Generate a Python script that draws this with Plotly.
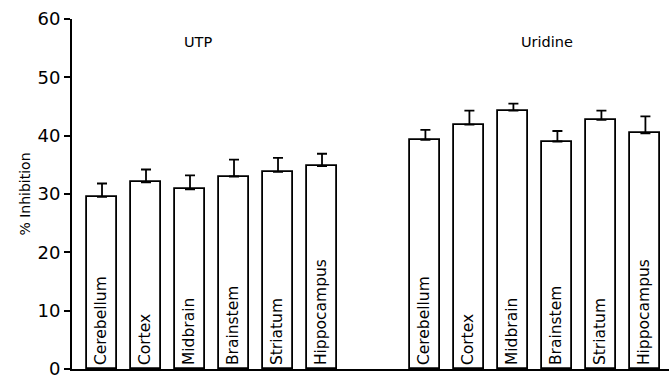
import plotly.graph_objects as go

# Brain regions assayed for each nucleoside / nucleotide
regions = ["Cerebellum", "Cortex", "Midbrain", "Brainstem", "Striatum", "Hippocampus"]

# % inhibition (mean) and upper error (SEM)
utp_mean = [29.5, 32.0, 30.8, 33.0, 33.8, 34.8]
utp_sem = [2.3, 2.2, 2.4, 2.9, 2.4, 2.1]
uridine_mean = [39.3, 41.9, 44.3, 39.0, 42.7, 40.4]
uridine_sem = [1.7, 2.4, 1.2, 1.8, 1.6, 2.9]

group_names = ["UTP", "Uridine"]
y_ticks = [0, 10, 20, 30, 40, 50, 60]

# slot layout: second group sits after a gap on the same numeric axis
GROUP_GAP = 7.35
utp_x = [i for i in range(len(regions))]
uridine_x = [i + GROUP_GAP for i in range(len(regions))]

FONT = "DejaVu Sans"
LINE_W = 1.8

fig = go.Figure()

for xs, means, errs in [(utp_x, utp_mean, utp_sem), (uridine_x, uridine_mean, uridine_sem)]:
    fig.add_trace(go.Bar(
        x=xs,
        y=means,
        width=0.68,
        marker=dict(color="white", line=dict(color="black", width=LINE_W)),
        error_y=dict(
            type="data",
            symmetric=False,
            array=errs,
            arrayminus=[0] * len(errs),
            color="black",
            thickness=LINE_W,
            width=5,
        ),
        text=regions,
        textposition="inside",
        insidetextanchor="start",
        textangle=-90,
        insidetextfont=dict(family=FONT, size=15.5, color="black"),
        showlegend=False,
    ))

# group headings above each set of bars
for name, xc in zip(group_names, [2.18, 10.11]):
    fig.add_annotation(
        x=xc, y=56, xref="x", yref="y",
        text=name, showarrow=False,
        font=dict(family=FONT, size=14.5, color="black"),
    )

fig.update_layout(
    width=669,
    height=379,
    margin=dict(l=72, r=0, t=19, b=8),
    paper_bgcolor="white",
    plot_bgcolor="white",
    bargap=0,
    font=dict(family=FONT, color="black"),
)

fig.update_xaxes(
    range=[-0.682, 12.886],
    showticklabels=False,
    ticks="",
    showgrid=False,
    zeroline=False,
    showline=True,
    linecolor="black",
    linewidth=LINE_W,
)

fig.update_yaxes(
    range=[0, 60],
    tickvals=y_ticks,
    ticks="outside",
    ticklen=6,
    tickwidth=LINE_W,
    tickcolor="black",
    tickfont=dict(family=FONT, size=18, color="black"),
    ticklabeloverflow="allow",
    showgrid=False,
    zeroline=False,
    showline=True,
    linecolor="black",
    linewidth=LINE_W,
    title=dict(text="% Inhibition", font=dict(family=FONT, size=14, color="black"), standoff=4),
)

fig.write_html("out.html")
